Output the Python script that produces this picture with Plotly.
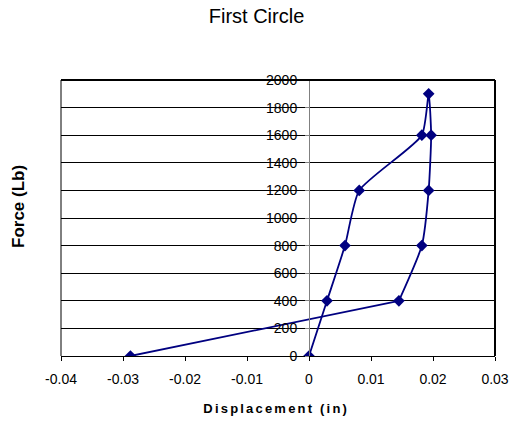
import plotly.graph_objects as go

# Load cycle: displacement (in) vs applied force (lb)
displacement = [0, 0.0029, 0.0058, 0.0081, 0.0182, 0.0193, 0.0197, 0.0193, 0.0182, 0.0145, -0.0288]
force = [0, 400, 800, 1200, 1600, 1900, 1600, 1200, 800, 400, 0]

x_tick_vals = [-0.04, -0.03, -0.02, -0.01, 0, 0.01, 0.02, 0.03]
x_tick_text = ["-0.04", "-0.03", "-0.02", "-0.01", "0", "0.01", "0.02", "0.03"]
y_tick_vals = [0, 200, 400, 600, 800, 1000, 1200, 1400, 1600, 1800, 2000]
y_tick_text = [str(v) for v in y_tick_vals]

FONT = "Arial, Liberation Sans, sans-serif"
NAVY = "#000080"

fig = go.Figure()
# Loading/unloading path drawn as a smoothed curve
fig.add_trace(go.Scatter(
    x=displacement[:-1], y=force[:-1],
    mode="lines",
    line=dict(color=NAVY, width=1.8, shape="spline", smoothing=0.55),
    showlegend=False, hoverinfo="skip",
))
# Final unloading leg back to zero force
fig.add_trace(go.Scatter(
    x=displacement[-2:], y=force[-2:],
    mode="lines",
    line=dict(color=NAVY, width=1.8),
    showlegend=False, hoverinfo="skip",
))
# Measured points
fig.add_trace(go.Scatter(
    x=displacement, y=force,
    mode="markers",
    marker=dict(symbol="diamond", size=9, color=NAVY),
    showlegend=False,
))

x_min, x_max = -0.04, 0.03
fig.update_layout(
    width=513, height=426,
    margin=dict(l=61, r=18, t=80, b=70),
    paper_bgcolor="white", plot_bgcolor="white",
    font=dict(family=FONT, color="black"),
    title=dict(text="First Circle", x=0.5, xref="container", xanchor="center",
               y=1 - 16 / 426, yref="container", yanchor="middle",
               font=dict(size=20, family=FONT, color="black")),
    xaxis=dict(
        range=[x_min, x_max], tickvals=x_tick_vals, ticktext=x_tick_text,
        automargin=False,
        showgrid=False, zeroline=False,
        showline=True, linecolor="black", linewidth=1,
        ticks="outside", ticklen=4, tickcolor="black",
        tickfont=dict(size=14, family=FONT), ticklabelstandoff=6,
    ),
    yaxis=dict(
        range=[0, 2000], tickvals=y_tick_vals, ticktext=y_tick_text,
        automargin=False,
        anchor="free", position=(0 - x_min) / (x_max - x_min),
        showgrid=True, gridcolor="black", gridwidth=1,
        zeroline=False,
        showline=True, linecolor="#808080", linewidth=1,
        ticks="outside", ticklen=4, tickcolor="#808080",
        tickfont=dict(size=14, family=FONT), ticklabelstandoff=5,
    ),
    annotations=[
        dict(text="<b>Force (Lb)</b>", xref="paper", yref="paper",
             x=(18 - 61) / 434, y=(356 - 207) / 276, textangle=-90,
             xanchor="center", yanchor="middle", showarrow=False,
             font=dict(size=17, family=FONT, color="black")),
        dict(text="<b>Displacement (in)</b>", xref="paper", yref="paper",
             x=(276 - 61) / 434, y=(356 - 408) / 276,
             xanchor="center", yanchor="middle", showarrow=False,
             font=dict(size=13, family=FONT, color="black")),
    ],
    shapes=[
        dict(type="line", xref="paper", yref="paper", x0=0, x1=0, y0=0, y1=1,
             line=dict(color="black", width=1)),
        dict(type="line", xref="paper", yref="paper", x0=0, x1=1, y0=1, y1=1,
             line=dict(color="black", width=2)),
        dict(type="line", xref="paper", yref="paper", x0=1, x1=1, y0=0, y1=1,
             line=dict(color="black", width=2)),
    ],
)

# Widen the letter spacing of the horizontal axis title
post = """
document.querySelectorAll('text.annotation-text').forEach(function(t){
  if (t.textContent === 'Displacement (in)') { t.style.letterSpacing = '2.2px'; }
});
"""

fig.write_html("out.html", post_script=post)
